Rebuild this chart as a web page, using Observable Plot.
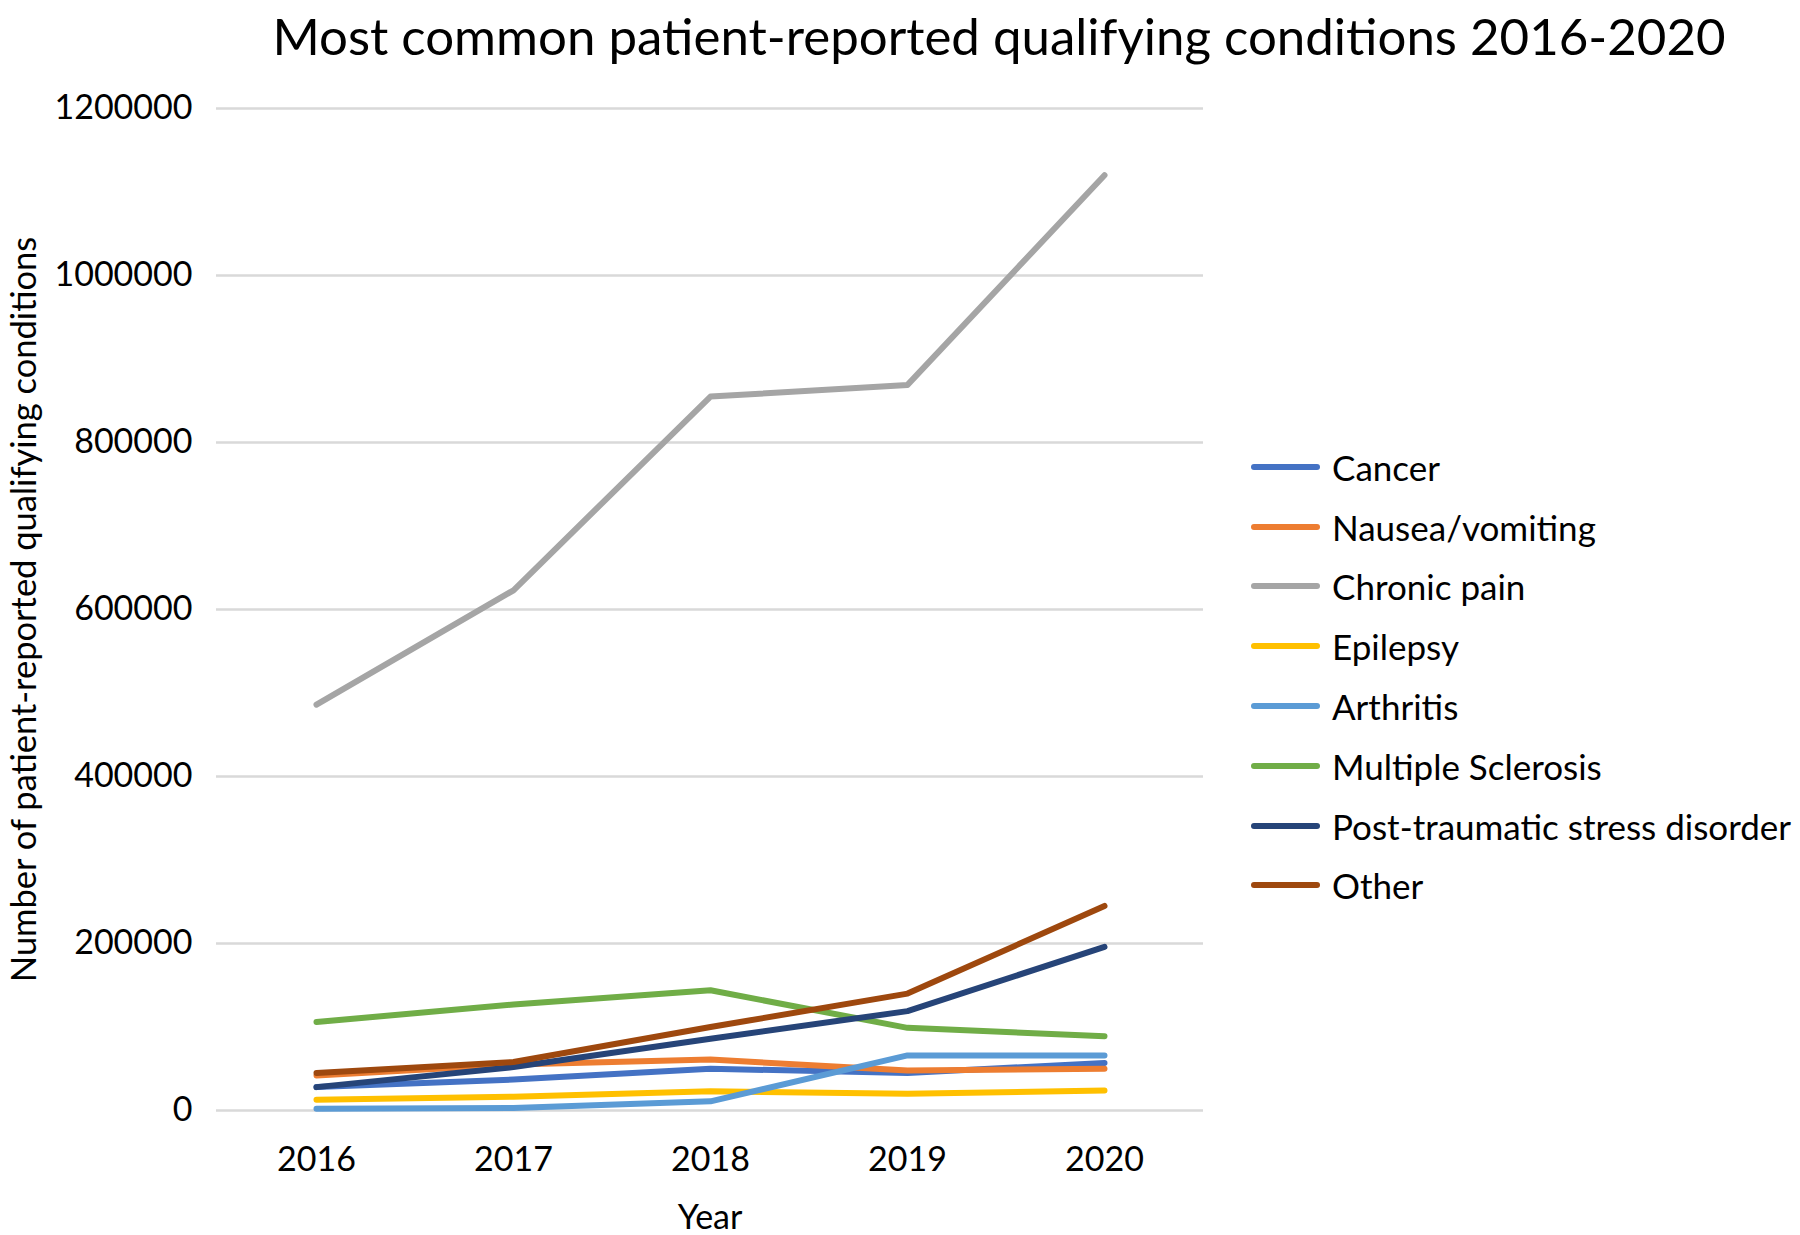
<!DOCTYPE html>
<html>
<head>
<meta charset="utf-8">
<script src="https://cdn.jsdelivr.net/npm/d3@7"></script>
<script src="https://cdn.jsdelivr.net/npm/@observablehq/plot@0.6"></script>
<style>
  html, body { margin: 0; padding: 0; background: #fff; }
  #wrap { position: relative; width: 1800px; height: 1235px; overflow: hidden; font-family: Lato, "Open Sans", sans-serif; color: #000; }
  #title { position: absolute; left: 999px; transform: translateX(-50%); top: 6px; font-size: 51px; line-height: 60px; white-space: nowrap; }
  #chart { position: absolute; left: 0; top: 0; }
  #legend { position: absolute; left: 1251px; top: 437px; }
  .item { display: flex; align-items: center; height: 59.8px; font-size: 35px; white-space: nowrap; }
  .sw { width: 69px; height: 6px; border-radius: 3px; margin-right: 12px; }
</style>
</head>
<body>
<div id="wrap">
  <div id="title">Most common patient-reported qualifying conditions 2016-2020</div>
  <div id="chart"></div>
  <div id="legend"></div>
</div>
<script>
const years = ["2016", "2017", "2018", "2019", "2020"];
const seriesNames = ["Cancer", "Nausea/vomiting", "Chronic pain", "Epilepsy", "Arthritis", "Multiple Sclerosis", "Post-traumatic stress disorder", "Other"];
const seriesColors = ["#4472C4", "#ED7D31", "#A5A5A5", "#FFC000", "#5B9BD5", "#70AD47", "#264478", "#9E480E"];
const cancer = [28000, 37000, 50000, 45000, 57000];
const nausea = [42000, 55000, 61000, 48000, 50000];
const chronicPain = [486000, 623000, 855000, 869000, 1120000];
const epilepsy = [13000, 16500, 23000, 20000, 24000];
const arthritis = [2000, 3000, 11000, 66000, 66000];
const multipleSclerosis = [106000, 127000, 144000, 99000, 89000];
const ptsd = [28000, 52000, 86000, 119000, 196000];
const other = [45000, 58000, 100000, 140000, 245000];
const yTicks = [0, 200000, 400000, 600000, 800000, 1000000, 1200000];

const seriesValues = [cancer, nausea, chronicPain, epilepsy, arthritis, multipleSclerosis, ptsd, other];
const data = [];
seriesNames.forEach((name, i) => {
  years.forEach((yr, j) => data.push({series: name, year: yr, value: seriesValues[i][j]}));
});

const chart = Plot.plot({
  width: 1240,
  height: 1235,
  marginLeft: 216,
  marginRight: 37,
  marginTop: 108,
  marginBottom: 125,
  style: { fontFamily: "Lato, 'Open Sans', sans-serif", fontSize: "34px", color: "#000", background: "transparent" },
  x: { type: "point", domain: years, padding: 0.5, label: null },
  y: { domain: [0, 1200000], label: null },
  color: { domain: seriesNames, range: seriesColors },
  marks: [
    Plot.ruleY(yTicks, { stroke: "#d9d9d9", strokeWidth: 2.5 }),
    Plot.axisY(yTicks, { tickSize: 0, tickPadding: 24, tickFormat: d => String(d), fontSize: 34, label: null }),
    Plot.axisY({ ticks: [], label: "Number of patient-reported qualifying conditions", labelAnchor: "center", labelArrow: "none", labelOffset: 205, fontSize: 34.5 }),
    Plot.axisX({ tickSize: 0, tickPadding: 36, fontSize: 34, label: "Year", labelAnchor: "center", labelArrow: "none", labelOffset: 118 }),
    Plot.line(data, { x: "year", y: "value", z: "series", stroke: "series", strokeWidth: 6, strokeLinecap: "round", strokeLinejoin: "round" })
  ]
});
document.getElementById("chart").appendChild(chart);

const legend = document.getElementById("legend");
seriesNames.forEach((name, i) => {
  const item = document.createElement("div");
  item.className = "item";
  const sw = document.createElement("div");
  sw.className = "sw";
  sw.style.background = seriesColors[i];
  const lab = document.createElement("span");
  lab.textContent = name;
  item.appendChild(sw);
  item.appendChild(lab);
  legend.appendChild(item);
});
</script>
</body>
</html>
